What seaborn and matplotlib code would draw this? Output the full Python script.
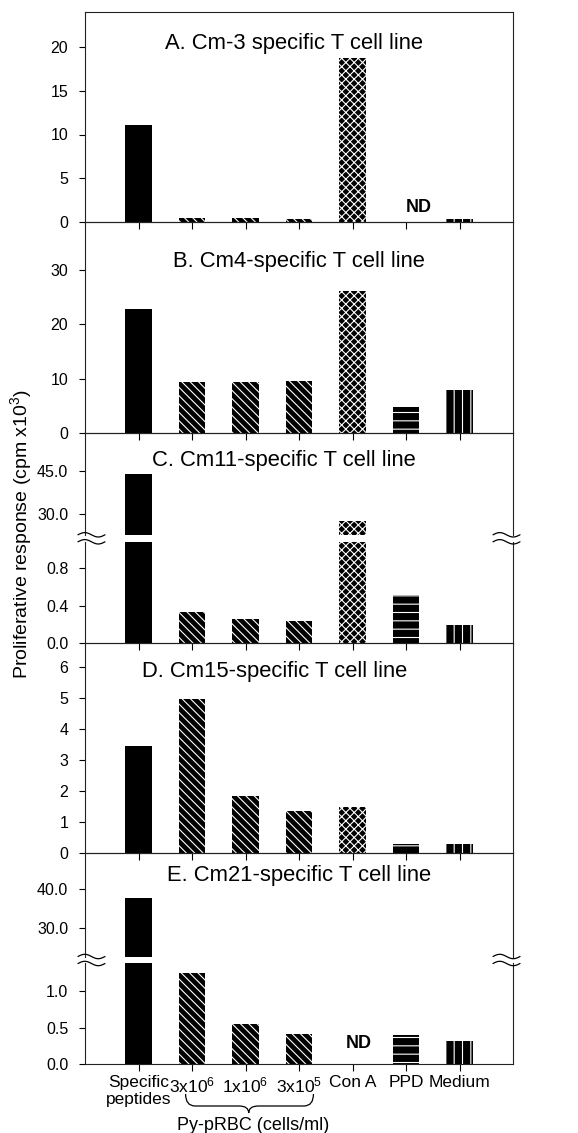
import numpy as np
import pandas as pd
import seaborn as sns
from matplotlib import pyplot as plt
from matplotlib.path import Path
from matplotlib.patches import PathPatch
from matplotlib.lines import Line2D
from matplotlib.ticker import FormatStrFormatter
from matplotlib.transforms import blended_transform_factory

# stimuli (x categories) and their tick labels
groups = ["peptide", "3e6", "1e6", "3e5", "conA", "PPD", "medium"]
tick_labels = ["Specific\npeptides", "3x10$^6$", "1x10$^6$", "3x10$^5$",
               "Con A", "PPD", "Medium"]
hatches = ["", "\\\\\\\\", "\\\\\\\\", "\\\\\\\\", "xxxx", "--", "||"]

# proliferative response, cpm x10^3 (nan = ND)
cm3 = [11.1, 0.5, 0.45, 0.3, 18.8, np.nan, 0.3]
cm4 = [22.8, 9.3, 9.4, 9.6, 26.1, 4.7, 7.8]
cm11 = [43.9, 0.33, 0.256, 0.24, 27.7, 0.515, 0.2]
cm15 = [3.47, 4.98, 1.84, 1.36, 1.5, 0.3, 0.3]
cm21 = [37.8, 1.24, 0.55, 0.41, np.nan, 0.40, 0.32]

titles = ["A. Cm-3 specific T cell line", "B. Cm4-specific T cell line",
          "C. Cm11-specific T cell line", "D. Cm15-specific T cell line",
          "E. Cm21-specific T cell line"]

sns.set_style("ticks")
plt.rcParams['font.family'] = ['Liberation Sans', 'DejaVu Sans']
plt.rcParams['mathtext.fontset'] = 'custom'
plt.rcParams['mathtext.rm'] = 'Liberation Sans'
plt.rcParams['mathtext.default'] = 'regular'
plt.rcParams['hatch.linewidth'] = 0.8
for k in ['text.color', 'axes.labelcolor', 'xtick.color', 'ytick.color']:
    plt.rcParams[k] = 'black'

W, H = 578, 1133
fig = plt.figure(figsize=(W / 100, H / 100), dpi=100)


def fy(py):
    return 1 - py / H


def make_ax(top, bottom):
    ax = fig.add_axes([85 / W, fy(bottom), 428 / W, (bottom - top) / H])
    ax.patch.set_visible(False)
    return ax


def draw_bars(ax, vals):
    df = pd.DataFrame({'group': groups, 'value': vals})
    sns.barplot(data=df, x='group', y='value', order=groups, color='black',
                width=0.49, errorbar=None, saturation=1, ax=ax)
    for p in ax.patches:
        i = int(round(p.get_x() + p.get_width() / 2))
        p.set_hatch(hatches[i])
        p.set_edgecolor('white')
        p.set_linewidth(0)
    ax.set_xlim(-1, 7)
    ax.set_xlabel('')
    ax.set_ylabel('')
    ax.set_xticks(range(len(groups)))
    ax.tick_params(axis='y', direction='out', length=4, width=0.8,
                   labelsize=11.5, pad=8)
    ax.tick_params(axis='x', direction='out', length=5, width=0.8,
                   labelbottom=False, labelsize=12.5, pad=3)
    for s in ax.spines.values():
        s.set_linewidth(0.8)
        s.set_color('#222222')


def break_marks(yc):
    for x0, lo, hi in [(85, -7, 20), (513, -20, 7)]:
        for dy in (-3.5, 3.5):
            t = np.linspace(0, 1, 40)
            xs = x0 + lo + (hi - lo) * t
            ys = yc + dy - 2.2 * np.sin(2 * np.pi * t)
            fig.add_artist(Line2D(xs / W, fy(ys), color='black', lw=0.9))


# A
ax_a = make_ax(12, 222)
draw_bars(ax_a, cm3)
ax_a.set_ylim(0, 24)
ax_a.set_yticks([0, 5, 10, 15, 20])
ax_a.text(5.24, 1.7, 'ND', ha='center', va='center', fontsize=13,
          fontweight='bold')

# B
ax_b = make_ax(222, 432.7)
draw_bars(ax_b, cm4)
ax_b.set_ylim(0, 38.9)
ax_b.set_yticks([0, 10, 20, 30])

# C (broken)
ax_cu = make_ax(432.7, 535)
draw_bars(ax_cu, cm11)
ax_cu.set_ylim(22.9, 58)
ax_cu.set_yticks([30, 45])
ax_cu.yaxis.set_major_formatter(FormatStrFormatter('%.1f'))
ax_cu.spines['bottom'].set_visible(False)
ax_cu.tick_params(axis='x', bottom=False)

ax_cl = make_ax(541.7, 643.3)
draw_bars(ax_cl, cm11)
ax_cl.set_ylim(0, 1.084)
ax_cl.set_yticks([0, 0.4, 0.8])
ax_cl.yaxis.set_major_formatter(FormatStrFormatter('%.1f'))
ax_cl.spines['top'].set_visible(False)
break_marks(538.3)

# D
ax_d = make_ax(643.3, 853.3)
draw_bars(ax_d, cm15)
ax_d.set_ylim(0, 6.77)
ax_d.set_yticks(range(7))

# E (broken)
ax_eu = make_ax(853.3, 956.7)
draw_bars(ax_eu, cm21)
ax_eu.set_ylim(22.7, 49.1)
ax_eu.set_yticks([30, 40])
ax_eu.yaxis.set_major_formatter(FormatStrFormatter('%.1f'))
ax_eu.spines['bottom'].set_visible(False)
ax_eu.tick_params(axis='x', bottom=False)

ax_el = make_ax(963.3, 1064.3)
draw_bars(ax_el, cm21)
ax_el.set_ylim(0, 1.378)
ax_el.set_yticks([0, 0.5, 1.0])
ax_el.yaxis.set_major_formatter(FormatStrFormatter('%.1f'))
ax_el.spines['top'].set_visible(False)
ax_el.text(4.12, 0.29, 'ND', ha='center', va='center', fontsize=13,
           fontweight='bold')
ax_el.tick_params(axis='x', labelbottom=True)
ax_el.set_xticklabels(tick_labels, linespacing=1.15)
break_marks(960)

# panel titles
for (px, py), txt in zip([(294, 43), (299, 262), (284, 460), (275, 672),
                          (299, 875)], titles):
    fig.text(px / W, fy(py), txt, ha='center', va='center', fontsize=15.8)

fig.text(21 / W, fy(534), 'Proliferative response (cpm x10$^3$)',
         rotation=90, ha='center', va='center', fontsize=14)

# brace under the Py-pRBC doses
trans = blended_transform_factory(ax_el.transData, fig.transFigure)
x0, x1, xm, d = 0.88, 3.27, 2.06, 0.18
yt, ym, yb = fy(1094), fy(1106), fy(1113)
verts = [(x0, yt), (x0, ym), (x0 + d, ym), (xm - d, ym), (xm, ym), (xm, yb),
         (xm, ym), (xm + d, ym), (x1 - d, ym), (x1, ym), (x1, yt)]
codes = [Path.MOVETO, Path.CURVE3, Path.CURVE3, Path.LINETO, Path.CURVE3,
         Path.CURVE3, Path.CURVE3, Path.CURVE3, Path.LINETO, Path.CURVE3,
         Path.CURVE3]
fig.add_artist(PathPatch(Path(verts, codes), fill=False, lw=0.9,
                         color='black', transform=trans))
fig.text(2.15, fy(1125), 'Py-pRBC (cells/ml)', transform=trans,
         ha='center', va='center', fontsize=13)

fig.savefig('out.png', dpi=100)
